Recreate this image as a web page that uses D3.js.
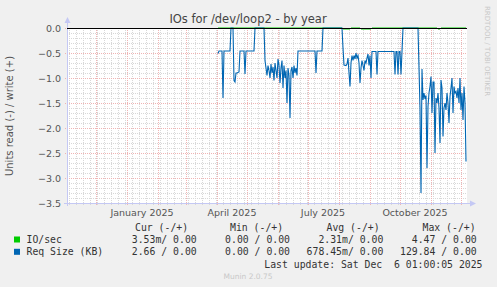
<!DOCTYPE html>
<html><head><meta charset="utf-8">
<script src="https://cdn.jsdelivr.net/npm/d3@7"></script>
<style>body{margin:0;background:#f0f0f0} svg{display:block} text{font-family:"DejaVu Sans",sans-serif} text.mono{font-family:"DejaVu Sans Mono",monospace;white-space:pre}</style>
</head><body><svg id="c" width="497" height="287"></svg>
<script>
// ---- data ----
const reqDates = [
 "2025-04-02","2025-04-03","2025-04-06","2025-04-07","2025-04-08","2025-04-14","2025-04-15","2025-04-17",
 "2025-04-18","2025-04-19","2025-04-20","2025-04-21","2025-04-23","2025-04-24","2025-04-28","2025-04-29",
 "2025-04-30","2025-05-08","2025-05-09","2025-05-18","2025-05-19","2025-05-20",
 "2025-05-21","2025-05-22","2025-05-23","2025-05-24","2025-05-25","2025-05-26","2025-05-27","2025-05-28","2025-05-29","2025-05-30","2025-05-31",
 "2025-06-01","2025-06-02","2025-06-03","2025-06-04","2025-06-05","2025-06-06","2025-06-07","2025-06-08","2025-06-09","2025-06-10",
 "2025-06-11","2025-06-12","2025-06-13","2025-06-14","2025-06-15","2025-06-16","2025-06-17","2025-06-18","2025-06-19","2025-06-20","2025-06-21",
 "2025-07-08","2025-07-09","2025-07-10","2025-07-15","2025-07-16","2025-08-04","2025-08-05","2025-08-06","2025-08-08",
 "2025-08-09","2025-08-10","2025-08-11","2025-08-12","2025-08-13","2025-08-14","2025-08-15","2025-08-16","2025-08-17","2025-08-18","2025-08-19",
 "2025-08-20","2025-08-21","2025-08-22","2025-08-23","2025-08-24","2025-08-25","2025-08-26","2025-08-27","2025-08-28","2025-08-29","2025-08-30",
 "2025-08-31","2025-09-01","2025-09-02","2025-09-03","2025-09-07","2025-09-08","2025-09-09","2025-09-25","2025-09-26","2025-09-27","2025-09-28",
 "2025-09-29","2025-09-30","2025-10-01","2025-10-02","2025-10-03","2025-10-04","2025-10-19","2025-10-20","2025-10-21","2025-10-22","2025-10-23",
 "2025-10-24","2025-10-25","2025-10-26","2025-10-27","2025-10-28","2025-10-29","2025-10-30","2025-10-31",
 "2025-11-01","2025-11-02","2025-11-03","2025-11-04","2025-11-05","2025-11-06","2025-11-07","2025-11-08","2025-11-09","2025-11-10",
 "2025-11-11","2025-11-12","2025-11-13","2025-11-14","2025-11-15","2025-11-16","2025-11-17","2025-11-18","2025-11-19","2025-11-20",
 "2025-11-21","2025-11-22","2025-11-23","2025-11-24","2025-11-25","2025-11-26","2025-11-27","2025-11-28","2025-11-29","2025-11-30",
 "2025-12-01","2025-12-02","2025-12-03","2025-12-04","2025-12-05","2025-12-06"
];
const reqValues = [
 -0.51,-0.46,-0.46,-1.40,-0.46,-0.46,0,0,
 -1.05,-1.08,-0.90,-0.90,-0.88,-0.46,-0.46,-0.92,
 -0.46,-0.46,0,0,-0.65,-0.80,
 -0.95,-0.75,-0.85,-1.0,-0.72,-0.9,-0.78,-1.05,-0.7,-0.85,-1.0,
 -0.62,-0.75,-1.1,-0.8,-0.65,-1.2,-0.75,-1.0,-0.85,-1.5,
 -0.8,-0.95,-1.8,-0.85,-0.78,-1.0,-0.75,-0.9,-0.8,-0.95,-0.46,
 -0.46,-0.90,-0.46,-0.46,0,0,-0.40,-0.74,-0.75,
 -0.72,-0.6,-0.9,-1.17,-0.7,-0.55,-0.65,-0.55,-0.62,-0.5,-0.6,
 -0.55,-0.7,-1.1,-0.8,-0.65,-0.75,-0.85,-0.65,-0.7,-0.6,-0.52,
 -0.75,-0.55,-1.0,-0.47,-0.47,-0.93,-0.47,-0.47,-0.93,-0.47,-0.47,
 -0.93,-0.47,-0.47,-0.93,-0.47,0,0,-0.8,-1.6,-3.3,-0.82,
 -1.44,-1.3,-1.42,-1.35,-2.8,-1.57,-1.3,-1.17,
 -0.97,-1.7,-1.08,-1.08,-2.5,-1.4,-1.5,-1.3,-1.6,-2.3,
 -1.04,-1.2,-2.17,-1.6,-1.5,-1.64,-1.3,-1.5,-1.9,-1.37,
 -1.2,-1.0,-1.7,-1.17,-1.3,-1.27,-1.4,-1.2,-1.5,-1.0,
 -1.64,-1.3,-1.84,-1.17,-1.5,-2.67
];
const ioDates = ["2025-04-02","2025-08-04","2025-08-05","2025-08-12","2025-08-13","2025-08-22","2025-08-23","2025-09-02","2025-09-03","2025-11-07","2025-11-08","2025-11-10","2025-11-11","2025-12-06"];
const ioValues = [0,0,-0.02,-0.02,0,0,-0.02,-0.02,0,0,-0.02,-0.02,0,0];

const yTicks = [0.0,-0.5,-1.0,-1.5,-2.0,-2.5,-3.0,-3.5];
const xLabels = ["January 2025","April 2025","July 2025","October 2025"];
const xLabelDates = ["2025-01-16","2025-04-16","2025-07-16","2025-10-16"];
const domainDates = ["2024-11-02","2025-12-07"];
const legendHeaders = ["Cur (-/+)","Min (-/+)","Avg (-/+)","Max (-/+)"];
const seriesNames = ["IO/sec","Req Size (KB)"];
const seriesColors = ["#00cc00","#0066b3"];
const legendValues = [
 ["3.53m/ 0.00","0.00 / 0.00","2.31m/ 0.00","4.47 / 0.00"],
 ["2.66 / 0.00","0.00 / 0.00","678.45m/ 0.00","129.84 / 0.00"]
];
const titleText = "IOs for /dev/loop2 - by year";
const yTitle = "Units read (-) / write (+)";
const lastUpdate = "Last update: Sat Dec  6 01:00:05 2025";
const version = "Munin 2.0.75";
const sideText = "RRDTOOL / TOBI OETIKER";

// ---- drawing ----
const parse = d3.utcParse("%Y-%m-%d");
const svg = d3.select("#c");
const L = 67, R = 467, T = 28, B = 203;
const x = d3.scaleUtc().domain(domainDates.map(parse)).range([L, R]);
const y = d3.scaleLinear().domain([-3.5, 0]).range([B, T]);
const px = v => Math.round(v) + 0.5;

svg.append("rect").attr("width",497).attr("height",287).attr("fill","#f0f0f0");
svg.append("rect").attr("x",L).attr("y",T).attr("width",R-L).attr("height",B-T).attr("fill","#ffffff");

const minorCol = "#d8d8d8", majorCol = "#f0b4b4";
// minor y grid
const minorY = d3.range(0, 36).filter(i => i % 5 !== 0).map(i => -i/10);
svg.append("g").selectAll("line").data(minorY).join("line")
  .attr("x1",L).attr("x2",R).attr("y1",d=>px(y(d))).attr("y2",d=>px(y(d)))
  .attr("stroke",minorCol).attr("stroke-dasharray","1,1");
// minor x grid (weekly)
const weeks = d3.utcMonday.range(x.domain()[0], x.domain()[1]);
svg.append("g").selectAll("line").data(weeks).join("line")
  .attr("x1",d=>px(x(d))).attr("x2",d=>px(x(d))).attr("y1",T).attr("y2",B+2)
  .attr("stroke",minorCol).attr("stroke-dasharray","1,1");
// major y grid
svg.append("g").selectAll("line").data(yTicks).join("line")
  .attr("x1",L-2).attr("x2",R).attr("y1",d=>px(y(d))).attr("y2",d=>px(y(d)))
  .attr("stroke",majorCol).attr("stroke-dasharray","1,1");
// major x grid (monthly)
const months = d3.utcMonth.range(x.domain()[0], x.domain()[1]);
svg.append("g").selectAll("line").data(months).join("line")
  .attr("x1",d=>px(x(d))).attr("x2",d=>px(x(d))).attr("y1",T).attr("y2",B+3)
  .attr("stroke",majorCol).attr("stroke-dasharray","1,1");

// axes
const axisCol = "#c4c8f4";
svg.append("line").attr("x1",px(L)).attr("x2",px(L)).attr("y1",B+3).attr("y2",T-6).attr("stroke",axisCol);
svg.append("line").attr("x1",L-3).attr("x2",R+4).attr("y1",px(B)).attr("y2",px(B)).attr("stroke",axisCol);
svg.append("path").attr("d",`M${L-2.5},${T-5} L${L+3.5},${T-5} L${L+0.5},${T-11} Z`).attr("fill",axisCol);
svg.append("path").attr("d",`M${R+3},${B-2.5} L${R+3},${B+3.5} L${R+9},${B+0.5} Z`).attr("fill",axisCol);

// y tick labels
svg.append("g").selectAll("text").data(yTicks).join("text")
  .attr("x",61).attr("y",d=>y(d)+3.5).attr("text-anchor","end")
  .attr("font-size","9.5px").attr("fill","#555").text(d=>d3.format(".1f")(d));
// x labels
svg.append("g").selectAll("text").data(xLabels).join("text")
  .attr("x",(d,i)=>x(parse(xLabelDates[i]))).attr("y",216).attr("text-anchor","middle")
  .attr("font-size","9.5px").attr("fill","#555").text(d=>d);

// series
const line = d3.line().x(d=>x(d[0])).y(d=>y(d[1]));
const ioData = ioDates.map((d,i)=>[parse(d), ioValues[i]]);
const reqData = reqDates.map((d,i)=>[parse(d), reqValues[i]]);
svg.append("path").attr("d",line(ioData)).attr("fill","none").attr("stroke",seriesColors[0]).attr("stroke-width",1);
svg.append("path").attr("d",line(reqData)).attr("fill","none").attr("stroke",seriesColors[1]).attr("stroke-width",1.1);
// zero line
svg.append("line").attr("x1",L).attr("x2",R).attr("y1",px(y(0))).attr("y2",px(y(0))).attr("stroke","#000");

// titles
svg.append("text").attr("x",248).attr("y",23).attr("text-anchor","middle").attr("font-size","11.5px").attr("fill","#444").text(titleText);
svg.append("text").attr("transform","translate(13,116) rotate(-90)").attr("text-anchor","middle").attr("font-size","10px").attr("fill","#555").text(yTitle);
svg.append("text").attr("transform","translate(485,6) rotate(90)").attr("text-anchor","start").attr("font-size","7px").attr("fill","#c8c8c8").text(sideText);

// legend
const headerX = [135,230,326.5,422.5];
svg.append("g").selectAll("text").data(legendHeaders).join("text").attr("class","mono")
  .attr("x",(d,i)=>headerX[i]).attr("y",231).attr("font-size","9.8px").attr("fill","#333").text(d=>d);
const valEnd = [196.7,290,383.3,476.7];
seriesNames.forEach((name,i)=>{
  const yy = 243 + i*12.3;
  svg.append("rect").attr("x",14).attr("y",yy-6.5).attr("width",6).attr("height",6).attr("fill",seriesColors[i]);
  svg.append("text").attr("class","mono").attr("x",26.5).attr("y",yy).attr("font-size","9.8px").attr("fill","#333").text(name);
  svg.append("g").selectAll("text").data(legendValues[i]).join("text").attr("class","mono")
    .attr("x",(d,j)=>valEnd[j]).attr("y",yy).attr("text-anchor","end")
    .attr("font-size","9.8px").attr("fill","#333").text(d=>d);
});
svg.append("text").attr("class","mono").attr("x",482.5).attr("y",267.5).attr("text-anchor","end")
  .attr("font-size","9.8px").attr("fill","#333").text(lastUpdate);
svg.append("text").attr("x",248).attr("y",279).attr("text-anchor","middle").attr("font-size","7.5px").attr("fill","#c8c8c8").text(version);
</script></body></html>
